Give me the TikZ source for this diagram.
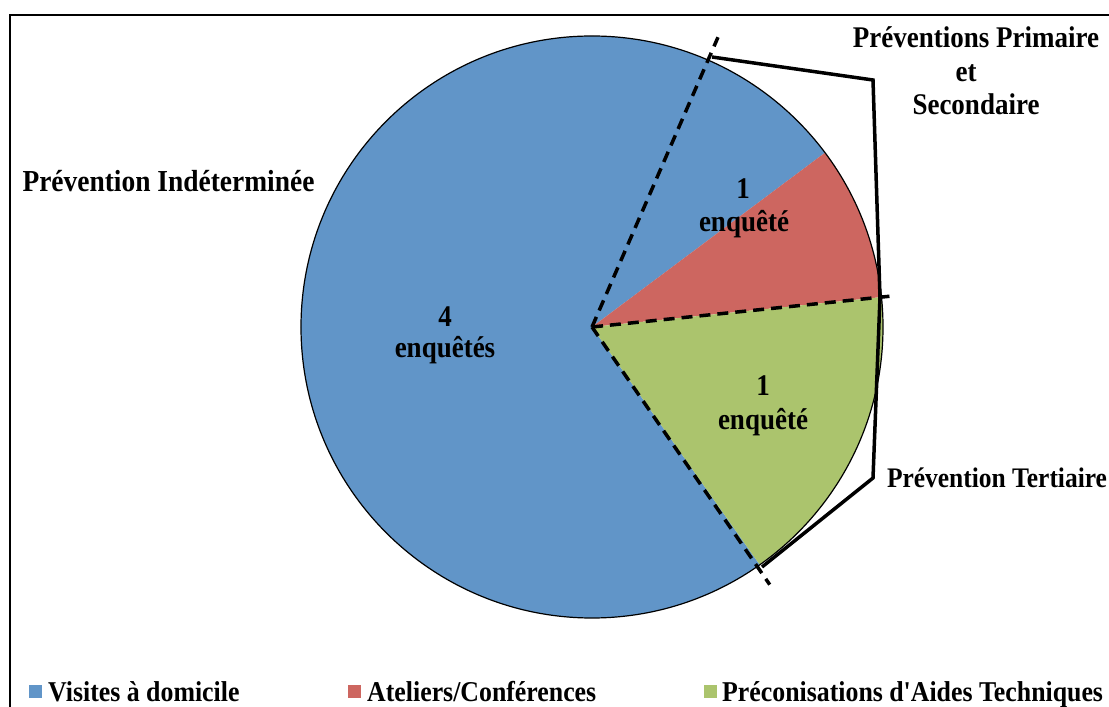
\documentclass[tikz,border=0pt]{standalone}
\usepackage{fontspec}
\usetikzlibrary{calc}
\newfontfamily\lab{Liberation Serif}[FakeStretch=0.9]
\definecolor{pieblue}{RGB}{97,149,200}
\definecolor{piered}{RGB}{205,102,96}
\definecolor{piegreen}{RGB}{171,196,109}
\begin{document}
\begin{tikzpicture}[x=1pt,y=1pt,
  txt/.style={inner sep=0pt,anchor=base,font=\lab\bfseries\fontsize{30}{34}\selectfont},
  legtxt/.style={inner sep=0pt,anchor=base west,font=\lab\bfseries\fontsize{28.7}{32}\selectfont},
  dashline/.style={line width=3.5pt,dash pattern=on 11pt off 7pt},
  callout/.style={line width=3.5pt,line join=miter},
  legsq/.style={inner sep=0pt,minimum size=13pt,anchor=south west}]
\useasboundingbox (0,0) rectangle (1109,707);
\clip (0,0) rectangle (1109,707);
% frame
\draw[line width=2.5pt] (10,692) rectangle (1130,-30);
% pie
\coordinate (C) at (592,380);
\def\R{291}
\fill[pieblue] (C) -- ++(36.8:\R) arc[start angle=36.8, end angle=305.2, radius=\R] -- cycle;
\fill[piered] (C) -- ++(5.9:\R) arc[start angle=5.9, end angle=36.8, radius=\R] -- cycle;
\fill[piegreen] (C) -- ++(-54.8:\R) arc[start angle=-54.8, end angle=5.9, radius=\R] -- cycle;
\draw[line width=1.2pt] (C) circle (\R);
% dashed separators
\coordinate (d1) at ($(C)+(66.5:316)$);
\coordinate (d2) at ($(C)+(5.9:305)$);
\coordinate (d3) at ($(C)+(-55.4:313)$);
\draw[dashline] (C) -- (d1);
\draw[dashline] (C) -- (d2);
\draw[dashline] (C) -- (d3);
% callout outline
\coordinate (p1) at (712,650);
\coordinate (p2) at (873,627);
\coordinate (p3) at (880,410);
\coordinate (p4) at (873,229);
\coordinate (p5) at (762,140);
\draw[callout] (p1) -- (p2) -- (p3) -- (p4) -- (p5);
% labels
\node[txt] (prim) at (976,659) {Préventions Primaire};
\node[txt] (et) at (966,625) {et};
\node[txt] (sec) at (976,592) {Secondaire};
\node[txt,font=\lab\bfseries\fontsize{30.5}{34}\selectfont] (ind) at (168.5,515) {Prévention Indéterminée};
\node[txt,font=\lab\bfseries\fontsize{28.3}{32}\selectfont] (ter) at (997,219) {Prévention Tertiaire};
\node[txt] (n4) at (445,380) {4};
\node[txt] (e4) at (445,349) {enquêtés};
\node[txt] (n1a) at (743,508) {1};
\node[txt] (e1a) at (744,475) {enquêté};
\node[txt] (n1b) at (763,311) {1};
\node[txt] (e1b) at (763,277) {enquêté};
% legend
\node[legsq,fill=pieblue] (sq1) at (29,9) {};
\node[legtxt] (l1) at (48,5) {Visites à domicile};
\node[legsq,fill=piered] (sq2) at (348,9) {};
\node[legtxt] (l2) at (367,5) {Ateliers/Conférences};
\node[legsq,fill=piegreen] (sq3) at (704,9) {};
\node[legtxt] (l3) at (722,5) {Préconisations d'Aides Techniques};
\end{tikzpicture}
\end{document}
